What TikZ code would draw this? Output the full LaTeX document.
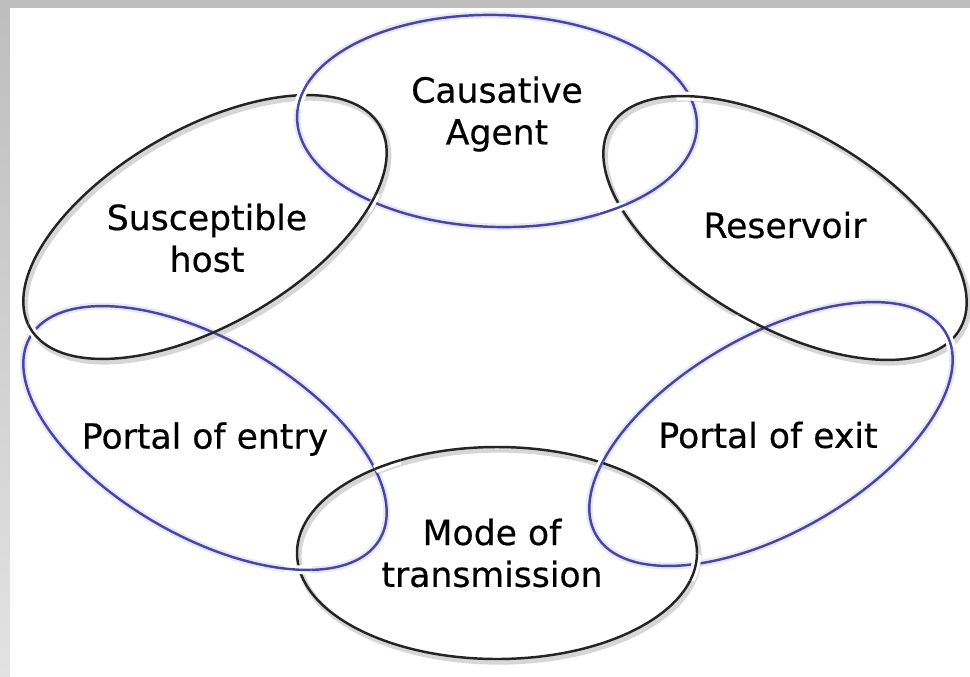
\documentclass[tikz,border=0pt]{standalone}
\usepackage{fontspec}
\setmainfont{DejaVu Sans}
\newfontfamily\labelfont{DejaVu Sans}[UprightFeatures={FakeBold=0.5}]

\definecolor{ringblue}{RGB}{70,70,168}
\definecolor{ringdark}{RGB}{36,36,36}
\definecolor{frametop}{RGB}{190,190,190}
\definecolor{framelow}{RGB}{226,226,226}

% the six links of the chain
\newcommand{\agentring}{(497,-121) ellipse [x radius=200, y radius=106, rotate=-1.5]}
\newcommand{\resring}{(785,-228) ellipse [x radius=202, y radius=98, rotate=-30]}
\newcommand{\exitring}{(771,-434) ellipse [x radius=202, y radius=98, rotate=30]}
\newcommand{\modering}{(497,-553) ellipse [x radius=200, y radius=106]}
\newcommand{\entryring}{(205,-438) ellipse [x radius=202, y radius=98, rotate=-30]}
\newcommand{\hostring}{(205,-227) ellipse [x radius=202, y radius=98, rotate=30]}

% redraw one link over another near a crossing
\newcommand{\linkover}[3]{%
  \begin{scope}
    \clip #1 circle (14);
    \draw[gap] #3;
    \draw[#2] #3;
  \end{scope}}

\tikzset{
  ring/.style={line width=1.4pt},
  bluering/.style={ring, draw=ringblue},
  darkring/.style={ring, draw=ringdark},
  blueglow/.style={draw=ringblue!12, line width=4pt},
  darkshadow/.style={draw=black!16, line width=3pt, shift={(2,-3)}},
  gap/.style={draw=white, line width=5pt},
  label/.style={align=center, font=\labelfont\fontsize{19.7}{23.8}\selectfont}
}

\begin{document}
\begin{tikzpicture}[x=0.02cm, y=0.02cm]
\useasboundingbox (0,0) rectangle (970,-676);
\fill[frametop] (0,0) rectangle (970,-8);
\shade[top color=frametop, bottom color=framelow] (0,-8) rectangle (10,-676);
\fill[white] (10,-8) rectangle (970,-676);

% shadows
\draw[blueglow] \agentring;
\draw[blueglow] \exitring;
\draw[blueglow] \entryring;
\draw[darkshadow] \resring;
\draw[darkshadow] \modering;
\draw[darkshadow] \hostring;

% links
\draw[bluering] \agentring;
\draw[bluering] \exitring;
\draw[bluering] \entryring;
\draw[darkring] \resring;
\draw[darkring] \modering;
\draw[darkring] \hostring;

% over and under
\linkover{(300,-95)}{bluering}{\agentring}
\linkover{(382,-208)}{darkring}{\hostring}
\linkover{(690,-95)}{darkring}{\resring}
\linkover{(612,-207)}{bluering}{\agentring}
\linkover{(742,-328)}{darkring}{\resring}
\linkover{(945,-338)}{bluering}{\exitring}
\linkover{(590,-458)}{bluering}{\exitring}
\linkover{(693,-567)}{darkring}{\modering}
\linkover{(387,-463)}{darkring}{\modering}
\linkover{(298,-567)}{bluering}{\entryring}
\linkover{(42,-328)}{darkring}{\hostring}
\linkover{(248,-333)}{bluering}{\entryring}

% labels
\node[label] (agent) at (497,-114) {Causative\\Agent};
\node[label] (res) at (785,-225) {Reservoir};
\node[label] (exit) at (768,-435) {Portal of exit};
\node[label] (mode) at (492,-553) {Mode of\\transmission};
\node[label] (entry) at (205,-439) {Portal of entry};
\node[label] (host) at (207,-238) {Susceptible\\host};
\end{tikzpicture}
\end{document}
